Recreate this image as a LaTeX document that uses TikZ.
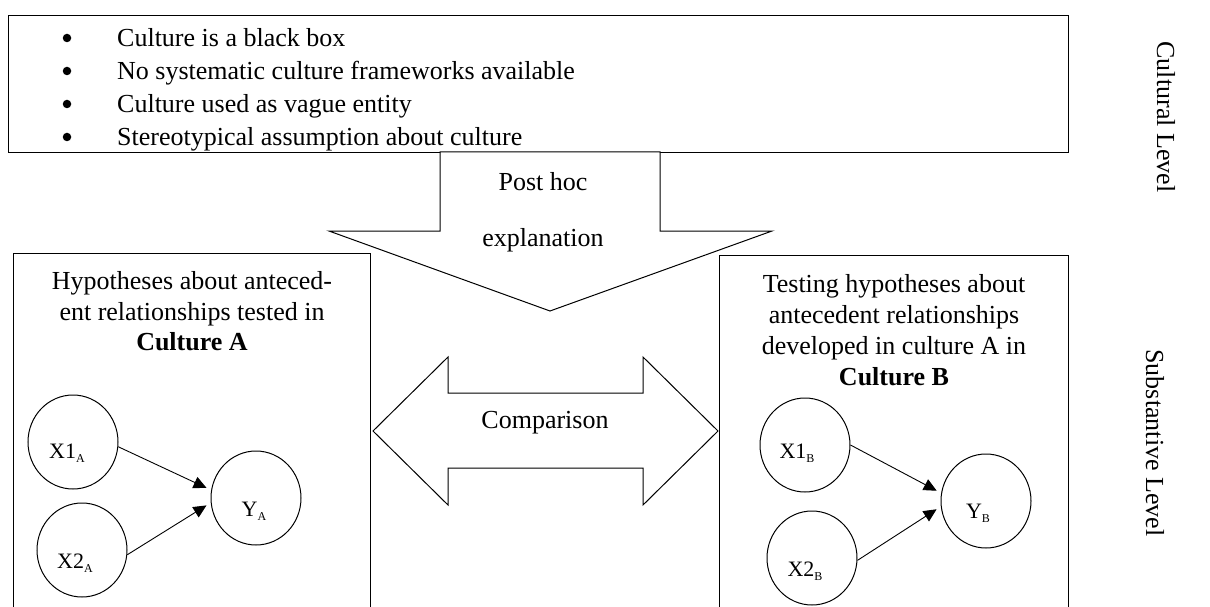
\documentclass[tikz,border=0pt]{standalone}
\usepackage{fontspec}
\setmainfont{Liberation Serif}
\usetikzlibrary{arrows.meta,shapes.geometric}

% small lowered index for the variable names
\newcommand\vsub[1]{\raisebox{-4pt}{\fontsize{12}{12}\selectfont #1}}

\begin{document}
\begin{tikzpicture}[x=1pt,y=-1pt,
  frame/.style={draw, line width=1.1pt, inner sep=0pt, anchor=north west},
  blockarrow/.style={draw, fill=white, line width=1pt, line join=miter},
  dot/.style={circle, fill=black, minimum size=8.5pt, inner sep=0pt},
  var/.style={draw, ellipse, minimum width=90pt, minimum height=94pt, inner sep=0pt, line width=1pt},
  vlab/.style={font=\fontsize{22}{24}\selectfont, inner sep=0pt, anchor=base},
  body/.style={font=\fontsize{26}{31}\selectfont, inner sep=0pt, anchor=base},
  link/.style={-{Triangle[length=13pt,width=12pt]}, line width=0.9pt, shorten >=5pt},
]
\useasboundingbox (0,0) rectangle (1210,607);
\clip (0,0) rectangle (1210,607);

% cultural level: the black-box view of culture
\node[frame, minimum width=1060pt, minimum height=137pt] (top) at (8,15) {};
\node[dot] (b1) at (67,38) {};
\node[dot] (b2) at (67,71) {};
\node[dot] (b3) at (67,104) {};
\node[dot] (b4) at (67,137) {};
\node[body, anchor=base west] (t1) at (117,47) {Culture is a black box};
\node[body, anchor=base west] (t2) at (117,80) {No systematic culture frameworks available};
\node[body, anchor=base west] (t3) at (117,113) {Culture used as vague entity};
\node[body, anchor=base west] (t4) at (117,146) {Stereotypical assumption about culture};

% substantive level: the two cultures
\node[frame, minimum width=357pt, minimum height=370pt] (boxA) at (13,253) {};
\node[frame, minimum width=349pt, minimum height=370pt] (boxB) at (719,255) {};

\node[body] (a1) at (192,289) {Hypotheses about anteced-};
\node[body] (a2) at (192,320) {ent relationships tested in};
\node[body] (a3) at (192,350) {\textbf{Culture A}};

\node[body] (c1) at (894,292) {Testing hypotheses about};
\node[body] (c2) at (894,323) {antecedent relationships};
\node[body] (c3) at (894,354) {developed in culture A in};
\node[body] (c4) at (894,385) {\textbf{Culture B}};

% post hoc explanation arrow
\draw[blockarrow] (440,152) -- (660,152) -- (660,231) -- (772,231) -- (550,311)
  -- (329,231) -- (440,231) -- cycle;
\node[body] (ph1) at (543,190) {Post hoc};
\node[body] (ph2) at (543,246) {explanation};

% comparison arrow
\draw[blockarrow] (373,431) -- (448,357) -- (448,393) -- (643,393) -- (643,357)
  -- (718,431) -- (643,505) -- (643,468) -- (448,468) -- (448,505) -- cycle;
\node[body] (cmp) at (545,428) {Comparison};

% model in culture A
\node[var] (X1A) at (73,442) {};
\node[var] (X2A) at (82,550) {};
\node[var] (YA) at (256,498) {};
\node[vlab] (lX1A) at (67,458) {X1\vsub{A}};
\node[vlab] (lX2A) at (75,568) {X2\vsub{A}};
\node[vlab] (lYA) at (254,516) {Y\vsub{A}};
\draw[link] (X1A.-6) -- (YA.170);
\draw[link] (X2A.-6) -- (YA.186);

% model in culture B
\node[var] (X1B) at (805,445) {};
\node[var] (X2B) at (812,558) {};
\node[var] (YB) at (986,501) {};
\node[vlab] (lX1B) at (797,458) {X1\vsub{B}};
\node[vlab] (lX2B) at (805,576) {X2\vsub{B}};
\node[vlab] (lYB) at (978,518) {Y\vsub{B}};
\draw[link] (X1B.0) -- (YB.170);
\draw[link] (X2B.-3) -- (YB.187);

% level labels
\node[body, anchor=center, rotate=-90] (lvl1) at (1166,117) {Cultural Level};
\node[body, anchor=center, rotate=-90] (lvl2) at (1155,443) {Substantive Level};
\end{tikzpicture}
\end{document}
